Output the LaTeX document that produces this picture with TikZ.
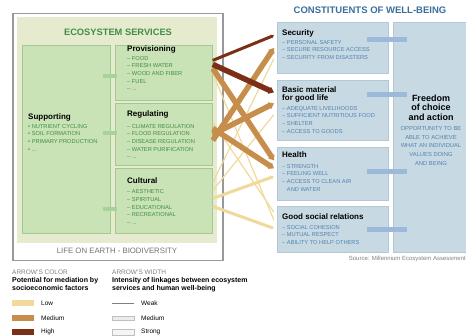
\documentclass[tikz,border=0pt]{standalone}
\usepackage{fontspec}
\setmainfont{Liberation Sans}
\usetikzlibrary{arrows.meta}
\definecolor{svcfill}{HTML}{C9E3B6}
\definecolor{svcline}{HTML}{A2C991}
\definecolor{svcback}{HTML}{E6EACF}
\definecolor{svctext}{HTML}{3F8F45}
\definecolor{svclink}{HTML}{A8D398}
\definecolor{wbfill}{HTML}{C7DAE3}
\definecolor{wbline}{HTML}{B2C8D4}
\definecolor{wbtext}{HTML}{5282B0}
\definecolor{wbtitle}{HTML}{3A6E9E}
\definecolor{wblink}{HTML}{9DB9DA}
\definecolor{lklow}{HTML}{F0D99A}
\definecolor{lkmid}{HTML}{C68D4B}
\definecolor{lkhigh}{HTML}{7B2F17}
\newcommand{\itemfont}{\fontsize{5.7}{7.7}\selectfont}
\newcommand{\headfont}{\bfseries\fontsize{8}{7.8}\selectfont}

\begin{document}
\begin{tikzpicture}[x=1pt,y=-1pt,
		svcbox/.style={draw=svcline,line width=0.8pt,fill=svcfill,anchor=north west,inner sep=0pt},
		wbbox/.style={draw=wbline,line width=0.8pt,fill=wbfill,anchor=north west,inner sep=0pt},
		boxhead/.style={anchor=north west,inner sep=0pt,align=left,font=\headfont},
		svcitems/.style={anchor=north west,inner sep=0pt,align=left,text=svctext,font=\itemfont},
		wbitems/.style={anchor=north west,inner sep=0pt,align=left,text=wbtext,font=\itemfont},
		svcarrow/.style={fill=svclink,minimum width=14,minimum height=4.5,inner sep=0pt},
		wbarrow/.style={fill=wblink,minimum width=40,minimum height=5,inner sep=0pt},
		link/.style={line cap=butt,-{Triangle[length=0.5pt 0.8,width=0pt 1.3]}},
		lkweak/.style={line width=1.2pt},
		lkmed/.style={line width=3pt},
		lkstrong/.style={line width=5.5pt},
		legsmall/.style={anchor=north west,inner sep=0pt,text=gray,font=\fontsize{6.5}{7}\selectfont},
		leghead/.style={anchor=north west,inner sep=0pt,align=left,font=\bfseries\fontsize{7}{8}\selectfont},
		leglabel/.style={anchor=west,inner sep=0pt,font=\fontsize{6.5}{7}\selectfont}]
	\useasboundingbox (0,0) rectangle (466,336);

	\node[draw=gray!80,line width=1.5pt,fill=white,anchor=north west,inner sep=0pt,minimum width=210,minimum height=247] (frame) at (12,13) {};
	\node[fill=svcback,anchor=north west,inner sep=0pt,minimum width=200,minimum height=226] (svcarea) at (17,17) {};
	\node[text=svctext,font=\bfseries\fontsize{9.3}{10}\selectfont] (svctitle) at (118,32) {ECOSYSTEM SERVICES};
	\node[text=gray!90!black,font=\fontsize{7.8}{8}\selectfont] (biodiv) at (117,251) {LIFE ON EARTH - BIODIVERSITY};

	\node[svcbox,minimum width=88,minimum height=188] (supp) at (22,45) {};
	\node[svcbox,minimum width=97,minimum height=55] (prov) at (115,45) {};
	\node[svcbox,minimum width=97,minimum height=62] (reg) at (115,103) {};
	\node[svcbox,minimum width=97,minimum height=65] (cult) at (115,168) {};

	\node[boxhead] (supphead) at (28,113.5) {Supporting};
	\node[svcitems] (suppitems) at (28,124) {• NUTRIENT CYCLING\\• SOIL FORMATION\\• PRIMARY PRODUCTION\\• ...};
	\node[boxhead] (provhead) at (127,46) {Provisioning};
	\node[svcitems] (provitems) at (127,56) {– FOOD\\– FRESH WATER\\– WOOD AND FIBER\\– FUEL\\– ...};
	\node[boxhead] (reghead) at (127,111) {Regulating};
	\node[svcitems] (regitems) at (127,124) {– CLIMATE REGULATION\\– FLOOD REGULATION\\– DISEASE REGULATION\\– WATER PURIFICATION\\– ...};
	\node[boxhead] (culthead) at (127,178) {Cultural};
	\node[svcitems] (cultitems) at (127,189.5) {– AESTHETIC\\– SPIRITUAL\\– EDUCATIONAL\\– RECREATIONAL\\– ...};

	\node[svcarrow] (supp2prov) at (110,76) {};
	\node[svcarrow] (supp2reg) at (110,133) {};
	\node[svcarrow] (supp2cult) at (110,209) {};

	\node[text=wbtitle,font=\bfseries\fontsize{9.5}{10}\selectfont] (wbtitle) at (370,10) {CONSTITUENTS OF WELL-BEING};
	\node[wbbox,minimum width=111,minimum height=51] (sec) at (277,22) {};
	\node[wbbox,minimum width=111,minimum height=60] (basic) at (277,80) {};
	\node[wbbox,minimum width=111,minimum height=53] (health) at (277,147) {};
	\node[wbbox,minimum width=111,minimum height=46] (social) at (277,206) {};
	\node[wbbox,minimum width=75,minimum height=230] (free) at (393,22) {};

	\node[boxhead] (sechead) at (282,30) {Security};
	\node[wbitems] (secitems) at (282,40) {– PERSONAL SAFETY\\– SECURE RESOURCE ACCESS\\– SECURITY FROM DISASTERS};
	\node[boxhead] (basichead) at (282,86.5) {Basic material\\for good life};
	\node[wbitems] (basicitems) at (282,106) {– ADEQUATE LIVELIHOODS\\– SUFFICIENT NUTRITIOUS FOOD\\– SHELTER\\– ACCESS TO GOODS};
	\node[boxhead] (healthhead) at (282,152) {Health};
	\node[wbitems] (healthitems) at (282,164) {– STRENGTH\\– FEELING WELL\\– ACCESS TO CLEAN AIR\\\phantom{– }AND WATER};
	\node[boxhead] (socialhead) at (282,214) {Good social relations};
	\node[wbitems] (socialitems) at (282,225) {– SOCIAL COHESION\\– MUTUAL RESPECT\\– ABILITY TO HELP OTHERS};
	\node[anchor=north,inner sep=0pt,align=center,font=\bfseries\fontsize{9}{9.2}\selectfont] (freehead) at (431,95) {Freedom\\of choice\\and action};
	\node[anchor=north,inner sep=0pt,align=center,text=wbtext,font=\fontsize{5.8}{8.6}\selectfont] (freeitems) at (431,126.5) {OPPORTUNITY TO BE\\ABLE TO ACHIEVE\\WHAT AN INDIVIDUAL\\VALUES DOING\\AND BEING};

	\node[wbarrow] (sec2free) at (387,40) {};
	\node[wbarrow] (basic2free) at (387,95) {};
	\node[wbarrow] (health2free) at (387,172) {};
	\node[wbarrow] (social2free) at (387,230) {};

	\node[anchor=east,inner sep=0pt,text=gray,font=\fontsize{6}{7}\selectfont] (source) at (466,259) {Source: Millennium Ecosystem Assessment};

	\path[link]
		([yshift=-0.5]prov.east) edge[lklow,lkweak] ([xshift=-3,yshift=9]social.west)
		([yshift=12]reg.east) edge[lklow,lkweak] ([xshift=-3,yshift=17]social.west)
		([yshift=18.5]cult.east) edge[lklow,lkweak] ([xshift=-3,yshift=-10.5]sec.west)
		([yshift=10.5]cult.east) edge[lklow,lkweak] ([xshift=-3,yshift=-4]basic.west)
		([yshift=2.5]cult.east) edge[lklow,lkmed] ([xshift=-3,yshift=-2.5]health.west)
		([yshift=-5.5]cult.east) edge[lklow,lkmed] ([xshift=-3,yshift=1]social.west)
		([yshift=-6]reg.east) edge[lkmid,lkstrong] ([xshift=-3]sec.west)
		([yshift=0]reg.east) edge[lkmid,lkstrong] ([xshift=-3,yshift=7]basic.west)
		([yshift=6]reg.east) edge[lkmid,lkstrong] ([xshift=-3,yshift=5.5]health.west)
		([yshift=4.5]prov.east) edge[lkmid,lkstrong] ([xshift=-3,yshift=13.5]health.west)
		([yshift=12.5]prov.east) edge[lkhigh,lkmed] ([xshift=-3,yshift=12.5]sec.west)
		([yshift=8.5]prov.east) edge[lkhigh,lkstrong] ([xshift=-3,yshift=18]basic.west);

	\node[legsmall] (colorkey) at (12,269.5) {ARROW'S COLOR};
	\node[leghead] (colorhead) at (12,277.5) {Potential for mediation by\\socioeconomic factors};
	\node[fill=lklow,anchor=west,minimum width=22,minimum height=6,inner sep=0pt] (low) at (12,303) {};
	\node[fill=lkmid,anchor=west,minimum width=22,minimum height=6,inner sep=0pt] (mid) at (12,318.5) {};
	\node[fill=lkhigh,anchor=west,minimum width=22,minimum height=6,inner sep=0pt] (high) at (12,332) {};
	\node[leglabel] (lowlabel) at (41,303) {Low};
	\node[leglabel] (midlabel) at (41,318.5) {Medium};
	\node[leglabel] (highlabel) at (41,332) {High};

	\node[legsmall] (widthkey) at (112,269.5) {ARROW'S WIDTH};
	\node[leghead] (widthhead) at (112,277.5) {Intensity of linkages between ecosystem\\services and human well-being};
	\coordinate (weakA) at (112,303);
	\coordinate (weakB) at (134,303);
	\draw[gray,line width=0.8pt] (weakA) -- (weakB);
	\node[draw=gray!50,fill=gray!15,anchor=west,minimum width=22,minimum height=4,inner sep=0pt] (medw) at (112,318.5) {};
	\node[draw=gray!50,fill=gray!8,anchor=west,minimum width=22,minimum height=6,inner sep=0pt] (strongw) at (112,332) {};
	\node[leglabel] (weaklabel) at (141,303) {Weak};
	\node[leglabel] (medlabel) at (141,318.5) {Medium};
	\node[leglabel] (stronglabel) at (141,332) {Strong};
\end{tikzpicture}
\end{document}
